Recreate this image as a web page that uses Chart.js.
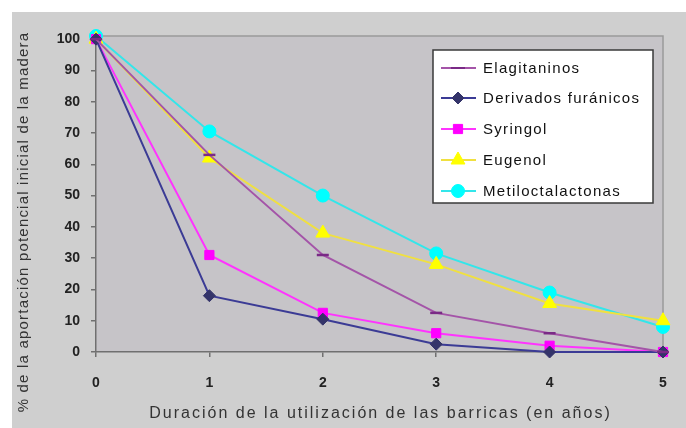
<!DOCTYPE html>
<html>
<head>
<meta charset="utf-8">
<script src="https://cdn.jsdelivr.net/npm/chart.js@4/dist/chart.umd.min.js"></script>
<style>
html,body{margin:0;padding:0;background:#fff;}
canvas{display:block;}
</style>
</head>
<body>
<canvas id="c" width="686" height="428"></canvas>
<script>
const categories = ['0', '1', '2', '3', '4', '5'];
const seriesNames = ['Elagitaninos', 'Derivados furánicos', 'Syringol', 'Eugenol', 'Metiloctalactonas'];
const elagitaninos = [100, 63, 31, 12.5, 6, 0];
const derivadosFuranicos = [100, 18, 10.5, 2.5, 0, 0];
const syringol = [100, 31, 12.5, 6, 2, 0];
const eugenol = [100, 62, 38, 28, 15.5, 10];
const metiloctalactonas = [101, 70.5, 50, 31.5, 19, 8];
const yTitle = '% de la aportación potencial inicial de la madera';
const xTitle = 'Duración de la utilización de las barricas (en años)';

const FONT = '"Liberation Sans", Arial, sans-serif';

const bgPlugin = {
  id: 'bg',
  beforeDraw(chart) {
    const ctx = chart.ctx, a = chart.chartArea;
    ctx.save();
    ctx.fillStyle = '#ffffff';
    ctx.fillRect(0, 0, chart.width, chart.height);
    ctx.fillStyle = '#cfcfcf';
    ctx.fillRect(12, 12, chart.width - 12, chart.height - 12);
    ctx.fillStyle = '#c6c4c8';
    ctx.fillRect(a.left, a.top, a.right - a.left, a.bottom - a.top);
    ctx.strokeStyle = '#9a9a9a';
    ctx.lineWidth = 1.5;
    ctx.beginPath();
    ctx.moveTo(a.left, a.top);
    ctx.lineTo(a.right, a.top);
    ctx.lineTo(a.right, a.bottom);
    ctx.stroke();
    ctx.fillStyle = '#333';
    ctx.textAlign = 'center';
    ctx.textBaseline = 'middle';
    // x title
    ctx.font = '16px ' + FONT;
    ctx.letterSpacing = '2px';
    ctx.fillText(xTitle, (a.left + a.right) / 2 + 1, 414);
    // rotated y title
    ctx.translate(24, 222);
    ctx.rotate(-Math.PI / 2);
    ctx.font = '15px ' + FONT;
    ctx.letterSpacing = '1.2px';
    ctx.fillText(yTitle, 0, 0);
    ctx.restore();
  },
  afterDraw(chart) {
    const ctx = chart.ctx;
    const bx = 433, by = 50, bw = 220, bh = 153;
    ctx.save();
    ctx.fillStyle = '#ffffff';
    ctx.fillRect(bx, by, bw, bh);
    ctx.strokeStyle = '#3a3a3a';
    ctx.lineWidth = 1.5;
    ctx.strokeRect(bx, by, bw, bh);
    const rows = [68, 98, 129, 160, 191];
    chart.data.datasets.forEach((ds, i) => {
      const y = rows[i];
      ctx.strokeStyle = ds.borderColor;
      ctx.lineWidth = 2;
      ctx.beginPath();
      ctx.moveTo(441, y);
      ctx.lineTo(476, y);
      ctx.stroke();
      const r = ds.pointStyle === 'line' ? 7 : ds.pointRadius;
      ctx.fillStyle = ds.pointBackgroundColor;
      ctx.strokeStyle = ds.pointBorderColor;
      ctx.lineWidth = ds.pointStyle === 'line' ? 2 : ds.pointBorderWidth;
      Chart.helpers.drawPoint(ctx, {pointStyle: ds.pointStyle, radius: r, borderWidth: ctx.lineWidth, rotation: 0}, 458, y);
      ctx.fillStyle = '#111';
      ctx.font = '15px ' + FONT;
      ctx.letterSpacing = '1.3px';
      ctx.textAlign = 'left';
      ctx.textBaseline = 'middle';
      ctx.fillText(ds.label, 483, y + 1);
      ctx.letterSpacing = '0px';
    });
    ctx.restore();
  }
};

const seriesData = [elagitaninos, derivadosFuranicos, syringol, eugenol, metiloctalactonas];
const lineColors = ['#a454a8', '#3b3b95', '#ff33ff', '#f0e040', '#33e6ea'];
const markerFill = ['#7a2a86', '#34346a', '#ff00ff', '#ffff00', '#00ffff'];
const markerStyle = ['line', 'rectRot', 'rect', 'triangle', 'circle'];
const markerRadius = [6, 6, 6.5, 8, 6.5];

new Chart(document.getElementById('c'), {
  type: 'line',
  data: {
    labels: categories,
    datasets: seriesData.map((d, i) => ({
      label: seriesNames[i],
      data: d,
      borderColor: lineColors[i],
      borderWidth: 2,
      pointStyle: markerStyle[i],
      pointRadius: markerRadius[i],
      pointBackgroundColor: markerFill[i],
      pointBorderColor: markerFill[i],
      pointBorderWidth: i === 0 ? 2.5 : 1,
      tension: 0,
      clip: false
    }))
  },
  options: {
    responsive: false,
    animation: false,
    devicePixelRatio: 1,
    layout: {padding: {left: 12, top: 36, right: 23, bottom: 0}},
    plugins: {legend: {display: false}, tooltip: {enabled: false}},
    scales: {
      x: {
        type: 'category',
        offset: false,
        afterFit(s) { s.height = 76; },
        grid: {display: true, drawOnChartArea: false, drawTicks: true, tickLength: 5, color: '#707070', lineWidth: 1.5},
        border: {display: true, color: '#707070', width: 1.5},
        ticks: {color: '#222', padding: 18, font: {family: FONT, size: 14, weight: 'bold'}},
        title: {display: false}
      },
      y: {
        min: 0,
        max: 101,
        afterFit(s) { s.width = 84; },
        grid: {display: true, drawOnChartArea: false, drawTicks: true, tickLength: 5, color: '#707070', lineWidth: 1.5},
        border: {display: true, color: '#707070', width: 1.5},
        ticks: {stepSize: 10, includeBounds: false, color: '#222', padding: 11, font: {family: FONT, size: 14, weight: 'bold'}}
      }
    }
  },
  plugins: [bgPlugin]
});
</script>
</body>
</html>
